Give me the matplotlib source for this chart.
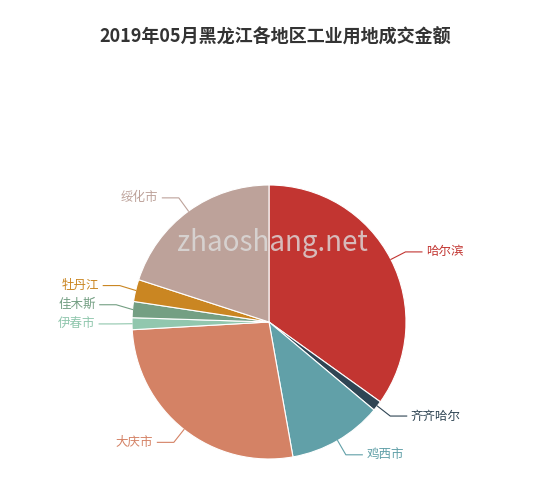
import matplotlib
matplotlib.use("Agg")
import matplotlib.pyplot as plt
import numpy as np

plt.rcParams['font.family'] = ['Noto Sans CJK SC', 'DejaVu Sans']

names = ['哈尔滨', '齐齐哈尔', '鸡西市', '大庆市', '伊春市', '佳木斯', '牡丹江', '绥化市']
values = [34.9, 1.2, 11.1, 26.9, 1.4, 1.9, 2.6, 20.0]
colors = ['#c23531', '#2f4554', '#61a0a8', '#d48265', '#91c7ae', '#749f83', '#ca8622', '#bda29a']

fig = plt.figure(figsize=(5.5, 4.9), dpi=100)
fig.text(0.5, 0.925, '2019年05月黑龙江各地区工业用地成交金额', ha='center', va='center',
         fontsize=13, fontweight='bold', color='#333333')
ax = fig.add_axes([(269 - 137) / 550, (168 - 137) / 490, 274 / 550, 274 / 490])
wedges, _ = ax.pie(values, colors=colors, startangle=90, counterclock=False, radius=1,
                   wedgeprops=dict(edgecolor='white', linewidth=0.8))
ax.set_xlim(-1, 1); ax.set_ylim(-1, 1); ax.set_aspect('equal'); ax.axis('off')
prev_left = None
for w, n, c in zip(wedges, names, colors):
    a = np.deg2rad((w.theta1 + w.theta2) / 2)
    x0, y0 = np.cos(a), np.sin(a)
    x1, y1 = 1.12 * x0, 1.12 * y0
    s = 1 if x0 >= 0 else -1
    if s < 0:
        if prev_left is not None and y1 - prev_left < 0.14:
            y1 = prev_left + 0.14
        prev_left = y1
    x2 = x1 + s * 0.12
    ax.plot([x0, x1, x2], [y0, y1, y1], color=c, lw=0.8, clip_on=False)
    ax.text(x2 + s * 0.03, y1, n, ha='left' if s > 0 else 'right', va='center',
            fontsize=9, color=c, clip_on=False)
fig.text(272 / 550, 1 - 243 / 490, 'zhaoshang.net', ha='center', va='center',
         fontsize=20, color='#dddddd', alpha=0.8)
fig.savefig('out.png', dpi=100)
